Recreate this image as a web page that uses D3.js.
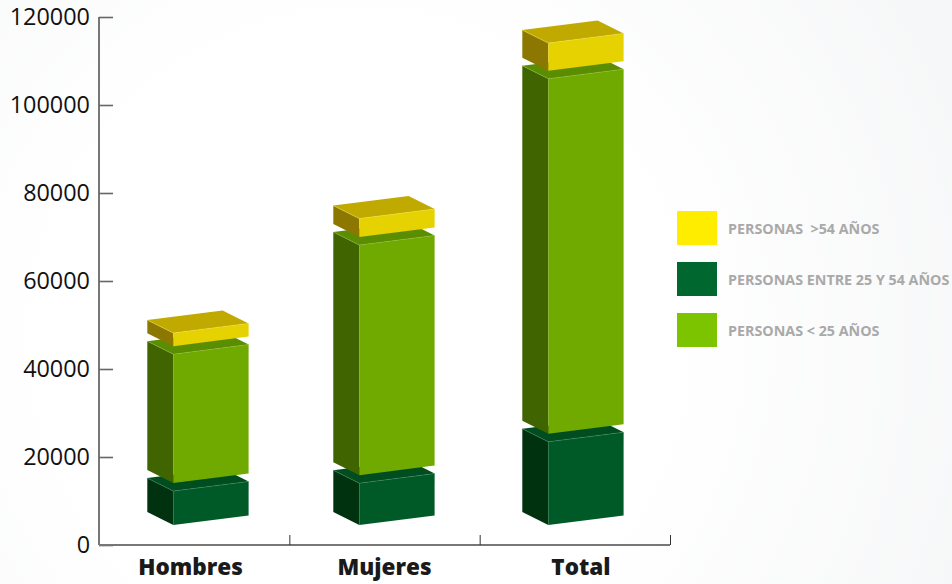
<!DOCTYPE html>
<html>
<head>
<meta charset="utf-8">
<script src="https://cdn.jsdelivr.net/npm/d3@7/dist/d3.min.js"></script>
<style>
html,body{margin:0;padding:0;background:#fff;overflow:hidden}
svg{display:block}
</style>
</head>
<body>
<svg id="c" width="952" height="584"></svg>
<script>
const categories = ["Hombres", "Mujeres", "Total"];
const under25 = [29300, 52300, 80700];
const between25and54 = [7700, 9500, 18900];
const over54 = [3000, 4200, 6300];
const yTicks = [0, 20000, 40000, 60000, 80000, 100000, 120000];
const legendLabels = ["PERSONAS  >54 AÑOS", "PERSONAS ENTRE 25 Y 54 AÑOS", "PERSONAS < 25 AÑOS"];

const svg = d3.select("#c");
const defs = svg.append("defs");
const bg = defs.append("radialGradient").attr("id", "bg").attr("gradientUnits", "userSpaceOnUse")
  .attr("cx", 360).attr("cy", 340).attr("r", 700);
bg.append("stop").attr("offset", "0.45").attr("stop-color", "#ffffff");
bg.append("stop").attr("offset", "1").attr("stop-color", "#f5f6f7");
svg.append("rect").attr("width", 952).attr("height", 584).attr("fill", "url(#bg)");

const y = d3.scaleLinear().domain([0, 120000]).range([545, 17]);
const xAxisScale = d3.scaleLinear().domain([0, 3]).range([99, 670]);
const barLeft = d3.scaleOrdinal(categories, [173.3, 359.3, 548.3]);
const labelX = d3.scaleOrdinal(categories, [190.5, 384.5, 581]);

const font = "'Open Sans', sans-serif";

// 3D projection of the boxes
const W = 75.3, slopeFront = -9.6, dx = -26, dy = -13, baseLift = 20, gap = 8;

const skins = [
  {key: "dark", vals: between25and54, front: "#005a27", side: "#003210", top: "#004d20", edge: "#3f8560"},
  {key: "green", vals: under25, front: "#70aa00", side: "#3f6400", top: "#5a8e00", edge: "#8dbb35"},
  {key: "yellow", vals: over54, front: "#e6d200", side: "#8c7800", top: "#c0aa00", edge: "#eedd45"}
];

const g = svg.append("g");
categories.forEach((cat, i) => {
  const x0 = barLeft(cat);
  let cum = 0;
  skins.forEach((s, k) => {
    const yb = y(cum) - baseLift - gap * k;
    const yt = y(cum + s.vals[i]) - baseLift - gap * k;
    cum += s.vals[i];
    const P = (pts) => pts.map(p => p.join(",")).join(" ");
    const box = g.append("g").attr("class", s.key);
    box.append("polygon").attr("fill", s.side)
      .attr("points", P([[x0 + dx, yt + dy], [x0, yt], [x0, yb], [x0 + dx, yb + dy]]));
    box.append("polygon").attr("fill", s.top)
      .attr("points", P([[x0 + dx, yt + dy], [x0 + dx + W, yt + dy + slopeFront], [x0 + W, yt + slopeFront], [x0, yt]]));
    box.append("polygon").attr("fill", s.front)
      .attr("points", P([[x0, yt], [x0 + W, yt + slopeFront], [x0 + W, yb + slopeFront], [x0, yb]]));
    box.append("polyline").attr("fill", "none").attr("stroke", s.edge).attr("stroke-width", 0.5)
      .attr("points", P([[x0 + dx, yt + dy], [x0, yt], [x0 + W, yt + slopeFront]]));
  });
});

// Y axis
const yAxis = svg.append("g").attr("transform", "translate(99,0)")
  .call(d3.axisLeft(y).tickValues(yTicks).tickSize(-14).tickPadding(23).tickFormat(d3.format("d")));
yAxis.select(".domain").attr("stroke", "#777").attr("stroke-width", 2).attr("d", "M0,17V545");
yAxis.selectAll(".tick line").attr("stroke", "#666").attr("stroke-width", 1.6);
yAxis.selectAll("text").attr("x", -9).attr("fill", "#111").attr("font-family", font).attr("font-size", 23.4).attr("text-anchor", "end").attr("dy", "0.34em");

// X axis
const xAxis = svg.append("g").attr("transform", "translate(0,545)")
  .call(d3.axisBottom(xAxisScale).tickValues([1, 2, 3]).tickSize(-10).tickFormat(""));
xAxis.select(".domain").attr("stroke", "#777").attr("stroke-width", 2).attr("d", "M99,0H670");
xAxis.selectAll(".tick line").attr("stroke", "#333").attr("stroke-width", 1);

svg.append("g").selectAll("text").data(categories).join("text")
  .attr("x", d => labelX(d)).attr("y", 575)
  .attr("text-anchor", "middle").attr("fill", "#1a1a1a")
  .attr("font-family", font).attr("font-weight", 800).attr("font-size", 22.5)
  .text(d => d);

// Legend
const legendColors = ["#ffed00", "#00672f", "#7dc400"];
const legendY = d3.scaleBand().domain(legendLabels).range([211, 364]).paddingInner(0).paddingOuter(0);
const leg = svg.append("g").selectAll("g").data(legendLabels).join("g")
  .attr("transform", d => `translate(677,${legendY(d)})`);
leg.append("rect").attr("width", 40).attr("height", 34).attr("fill", (d, i) => legendColors[i]);
leg.append("text").attr("x", 51).attr("y", 22.5).attr("fill", "#a9a9a9")
  .attr("font-family", font).attr("font-weight", 700).attr("font-size", 14.3)
  .style("white-space", "pre").text(d => d);
</script>
</body>
</html>
